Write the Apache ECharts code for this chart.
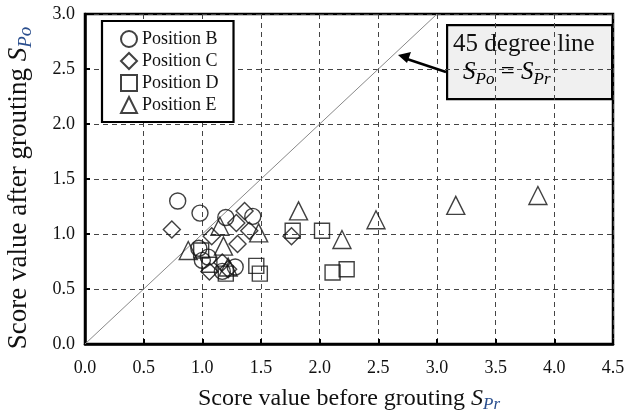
<!DOCTYPE html>
<html>
<head>
<meta charset="utf-8">
<script src="https://cdn.jsdelivr.net/npm/echarts@6/dist/echarts.min.js"></script>
<style>
  html, body { margin: 0; padding: 0; background: #fff; }
  #chart { width: 629px; height: 416px; }
</style>
</head>
<body>
<div id="chart"></div>
<script>
// Score values before (x) and after (y) grouting, per measuring position
const posB_x = [0.79, 0.98, 1.20, 1.43, 0.97, 1.00, 1.28, 1.17, 1.05];
const posB_y = [1.30, 1.19, 1.15, 1.16, 0.87, 0.76, 0.70, 0.66, 0.79];

const posC_x = [0.74, 1.36, 1.29, 1.40, 1.08, 1.30, 1.17, 1.06, 1.76, 1.22];
const posC_y = [1.04, 1.21, 1.10, 1.03, 0.98, 0.91, 0.74, 0.66, 0.98, 0.68];

const posD_x = [0.99, 1.06, 1.20, 1.46, 1.49, 1.77, 2.02, 2.11, 2.23];
const posD_y = [0.85, 0.72, 0.64, 0.71, 0.64, 1.03, 1.03, 0.65, 0.68];

const posE_x = [0.88, 1.15, 1.18, 1.48, 1.82, 2.19, 2.48, 3.16, 3.86, 1.22];
const posE_y = [0.85, 1.07, 0.89, 1.01, 1.21, 0.95, 1.13, 1.26, 1.35, 0.70];

const seriesNames = ['Position B', 'Position C', 'Position D', 'Position E'];
const xTicks = [0, 0.5, 1, 1.5, 2, 2.5, 3, 3.5, 4, 4.5];
const yTicks = [0, 0.5, 1, 1.5, 2, 2.5, 3];
const equalityLine = [[0, 0], [3, 3]];

const pair = (xs, ys) => xs.map((x, i) => [x, ys[i]]);

const serif = '"Liberation Serif", "Times New Roman", serif';
const subColor = '#2b4f8e';

const chart = echarts.init(document.getElementById('chart'), null, { renderer: 'canvas' });

const hollow = (symbol, size) => ({
  type: 'scatter',
  symbol: symbol,
  symbolSize: size,
  itemStyle: { color: 'rgba(0,0,0,0)', borderColor: '#111', borderWidth: 1.4 },
  emphasis: { disabled: true },
  z: 5
});

const titleRich = (size) => ({
  n: { fontFamily: serif, fontSize: size, color: '#111' },
  s: { fontFamily: serif, fontSize: size, fontStyle: 'italic', color: '#111' },
  sub: { fontFamily: serif, fontSize: Math.round(size * 0.7), fontStyle: 'italic', color: subColor, padding: [Math.round(size * 0.5), 0, 0, 0] }
});

chart.setOption({
  animation: false,
  grid: {
    left: 85, right: 16, top: 14, bottom: 72,
    containLabel: false, outerBoundsMode: 'none',
    show: true, borderColor: '#000', borderWidth: 2.5, backgroundColor: 'transparent'
  },
  legend: {
    left: 102, top: 21,
    orient: 'vertical',
    data: seriesNames,
    itemWidth: 16, itemHeight: 16, itemGap: 4,
    padding: [9, 15, 8, 18],
    borderColor: '#000', borderWidth: 2.2,
    backgroundColor: '#fff',
    textStyle: { fontFamily: serif, fontSize: 18, color: '#111' },
    selectedMode: false
  },
  xAxis: {
    type: 'value', min: 0, max: 4.5, interval: 0.5,
    axisLine: { show: true, lineStyle: { color: '#000', width: 2.5 } },
    axisTick: { show: true, inside: true, length: 5, lineStyle: { color: '#000', width: 2 } },
    splitLine: { show: true, lineStyle: { color: '#444', type: [5, 4], width: 1 } },
    axisLabel: {
      fontFamily: serif, fontSize: 18, color: '#111', margin: 15,
      formatter: v => xTicks.includes(v) ? v.toFixed(1) : ''
    },
    name: '{n|Score value before grouting }{s|S}{sub|Pr}',
    nameLocation: 'middle', nameGap: 40,
    nameTextStyle: { rich: titleRich(24) }
  },
  yAxis: {
    type: 'value', min: 0, max: 3, interval: 0.5,
    axisLine: { show: true, lineStyle: { color: '#000', width: 2.5 } },
    axisTick: { show: true, inside: true, length: 5, lineStyle: { color: '#000', width: 2 } },
    splitLine: { show: true, lineStyle: { color: '#444', type: [5, 4], width: 1 } },
    axisLabel: {
      fontFamily: serif, fontSize: 18, color: '#111', margin: 10,
      formatter: v => yTicks.includes(v) ? v.toFixed(1) : ''
    },
    name: '{n|Score value after grouting }{s|S}{sub|Po}',
    nameLocation: 'middle', nameGap: 50, nameRotate: 90,
    nameTextStyle: { rich: titleRich(27), padding: [0, 18, 0, 0] }
  },
  series: [
    {
      type: 'line', data: equalityLine, symbol: 'none', silent: true,
      lineStyle: { color: '#888', width: 1 }, z: 2
    },
    Object.assign(hollow('circle', 16), { name: seriesNames[0], data: pair(posB_x, posB_y) }),
    Object.assign(hollow('diamond', 17), { name: seriesNames[1], data: pair(posC_x, posC_y) }),
    Object.assign(hollow('rect', 15), { name: seriesNames[2], data: pair(posD_x, posD_y) }),
    Object.assign(hollow('triangle', 18), { name: seriesNames[3], data: pair(posE_x, posE_y) })
  ],
  graphic: [
    {
      type: 'group', left: 446, top: 24, z: 20,
      children: [
        {
          type: 'rect', shape: { x: 0, y: 0, width: 165, height: 74 },
          style: { fill: '#f0f0f0', stroke: '#000', lineWidth: 2.2 }
        },
        {
          type: 'text', left: 6, top: 7,
          style: { text: '45 degree line', font: '25px ' + serif, fill: '#111' }
        },
        {
          type: 'text', left: 16, top: 35,
          style: {
            text: '{s|S}{sub|Po}{n| = }{s|S}{sub|Pr}',
            rich: {
              n: { fontFamily: serif, fontSize: 25, color: '#111' },
              s: { fontFamily: serif, fontSize: 25, fontStyle: 'italic', color: '#111' },
              sub: { fontFamily: serif, fontSize: 17, fontStyle: 'italic', color: subColor, padding: [13, 0, 0, 0] }
            }
          }
        }
      ]
    },
    {
      type: 'line', z: 19,
      shape: { x1: 446, y1: 72, x2: 407, y2: 59 },
      style: { stroke: '#000', lineWidth: 2.5 }
    },
    {
      type: 'polygon', z: 19,
      shape: { points: [[398, 55], [411, 52], [407, 63]] },
      style: { fill: '#000' }
    }
  ]
});
</script>
</body>
</html>
